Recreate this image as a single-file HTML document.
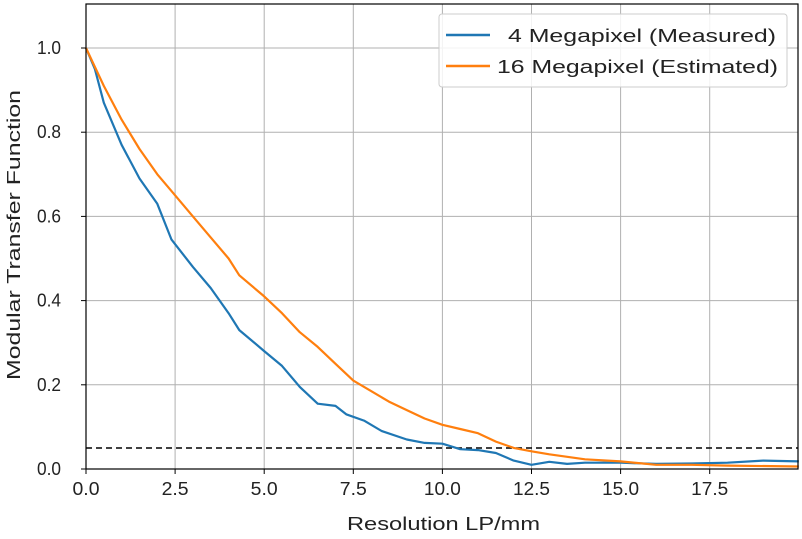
<!DOCTYPE html>
<html><head><meta charset="utf-8"><style>
html,body{margin:0;padding:0;background:#fff;}
svg{display:block;font-family:"Liberation Sans",sans-serif;}
</style></head><body>
<svg id="s" width="802" height="539" viewBox="0 0 802 539" xmlns="http://www.w3.org/2000/svg">
<rect width="802" height="539" fill="#fff"/>
<g id="grid" stroke="#b0b0b0" stroke-width="1"></g>
<line x1="86" y1="448" x2="798" y2="448" stroke="#000" stroke-width="1.5" stroke-dasharray="6,4"/>
<polyline id="blue" fill="none" stroke="#1f77b4" stroke-width="2.2" stroke-linejoin="round"/>
<polyline id="orange" fill="none" stroke="#ff7f0e" stroke-width="2.2" stroke-linejoin="round"/>
<rect x="86" y="4" width="712" height="465" fill="none" stroke="#000" stroke-width="1.2"/>
<g id="ticks" stroke="#000" stroke-width="1"></g>
<g id="labels" font-size="18" fill="#222"></g>
<text x="347" y="530" font-size="18" textLength="193" lengthAdjust="spacingAndGlyphs" fill="#222">Resolution LP/mm</text>
<text transform="translate(20,380) rotate(-90)" font-size="18" textLength="290" lengthAdjust="spacingAndGlyphs" fill="#222">Modular Transfer Function</text>
<rect x="439" y="14" width="348" height="73" rx="3" fill="#fff" fill-opacity="0.85" stroke="#ccc"/>
<line x1="446" y1="35" x2="490" y2="35" stroke="#1f77b4" stroke-width="2.5"/>
<line x1="446" y1="66" x2="490" y2="66" stroke="#ff7f0e" stroke-width="2.5"/>
<text x="508" y="42" font-size="18" textLength="268" lengthAdjust="spacingAndGlyphs" fill="#222">4 Megapixel (Measured)</text>
<text x="497" y="73" font-size="18" textLength="281" lengthAdjust="spacingAndGlyphs" fill="#222">16 Megapixel (Estimated)</text>
</svg>
<script>
var X=function(v){return 86+v*35.64},Y=function(v){return 469-v*421};
var g=document.getElementById('grid'),t=document.getElementById('ticks'),l=document.getElementById('labels'),ns='http://www.w3.org/2000/svg';
function el(p,n,a,txt){var e=document.createElementNS(ns,n);for(var k in a)e.setAttribute(k,a[k]);if(txt)e.textContent=txt;p.appendChild(e);}
for(var i=0;i<=7;i++){var v=i*2.5,x=X(v),s=v.toFixed(1),w=s.length>3?37:27;el(g,'line',{x1:x,y1:4,x2:x,y2:469});el(t,'line',{x1:x,y1:469,x2:x,y2:474});el(l,'text',{x:x-w/2,y:495,textLength:w,lengthAdjust:'spacingAndGlyphs'},s);}
for(var i=0;i<=5;i++){var v=i*0.2,y=Y(v);el(g,'line',{x1:86,y1:y,x2:798,y2:y});el(t,'line',{x1:81,y1:y,x2:86,y2:y});el(l,'text',{x:37,y:y+6,textLength:24,lengthAdjust:'spacingAndGlyphs'},v.toFixed(1));}
var B=[[0,1],[0.25,0.95],[0.5,0.87],[1,0.77],[1.5,0.69],[2,0.63],[2.4,0.545],[3,0.48],[3.5,0.43],[4,0.37],[4.3,0.33],[5,0.28],[5.5,0.245],[6,0.195],[6.5,0.155],[7,0.15],[7.3,0.13],[7.8,0.115],[8.3,0.09],[9,0.07],[9.5,0.062],[10,0.06],[10.5,0.047],[11,0.045],[11.5,0.038],[12,0.02],[12.5,0.01],[13,0.017],[13.5,0.012],[14,0.015],[15,0.015],[16,0.012],[17,0.013],[18,0.015],[19,0.02],[20,0.018]];
var O=[[0,1],[0.5,0.91],[1,0.83],[1.5,0.76],[2,0.7],[2.4,0.66],[3,0.6],[3.5,0.55],[4,0.5],[4.3,0.46],[5,0.41],[5.5,0.37],[6,0.325],[6.5,0.29],[7,0.25],[7.5,0.21],[8,0.185],[8.5,0.16],[9,0.14],[9.5,0.12],[10,0.105],[10.5,0.095],[11,0.085],[11.5,0.065],[12,0.05],[12.5,0.042],[13,0.035],[14,0.023],[15,0.018],[16,0.01],[17,0.01],[18,0.008],[20,0.006]];
function pts(a){return a.map(function(p){return X(p[0]).toFixed(1)+','+Y(p[1]).toFixed(1)}).join(' ')}
document.getElementById('blue').setAttribute('points',pts(B));
document.getElementById('orange').setAttribute('points',pts(O));
</script>
</body></html>
